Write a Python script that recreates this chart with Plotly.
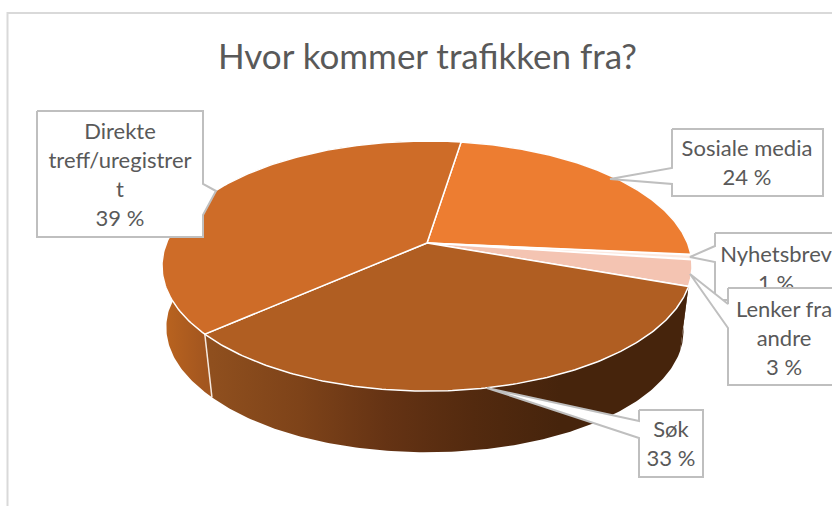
import numpy as np
import plotly.graph_objects as go

TITLE = "Hvor kommer trafikken fra?"
categories = ["Sosiale media", "Nyhetsbrev", "Lenker fra andre", "Søk", "Direkte treff/uregistrert"]
values = [24.0, 0.6, 3.4, 33.0, 39.0]
percent_labels = ["24 %", "1 %", "3 %", "33 %", "39 %"]
label_lines = [["Sosiale media"], ["Nyhetsbrev"], ["Lenker fra", "andre"], ["Søk"], ["Direkte", "treff/uregistrer", "t"]]
top_colors = ["#ED7D31", "#FBE9E0", "#F4C4B2", "#B05E22", "#CE6C28"]
wall_stops = [
    ["#46240C", "#46240C"], ["#46240C", "#46240C"], ["#46240C", "#46240C"],
    ["#8F4F1E", "#7E4319", "#653314", "#532A0F", "#46240C"],
    ["#B9631F", "#A3561F"],
]

START_DEG = 8.9
CX, CY = 427, 243
B, A, K = 260.5, 120.8, 0.184
DROP, SHRINK = 66, 0.968
INK, EDGE = "#595959", "#BFBFBF"
FONT = "Lato"


def rim(deg, lower=False):
    t = np.radians(deg)
    u, v = np.sin(t), -np.cos(t)
    d = 1 - K * v
    x, y = B * u / d, A * v / d
    if lower:
        # the far-left side of the lower rim bulges a little further out
        bulge = np.where(u < 0, 5.5 * np.clip(1 - v / 0.66, 0, 1), 0)
        return CX + SHRINK * x - bulge, CY + DROP + SHRINK * y
    return CX + x, CY + y


edges = START_DEG + np.concatenate([[0], np.cumsum(values)]) * 3.6
fig = go.Figure()


def poly(x, y, **kw):
    fig.add_trace(go.Scatter(x=x, y=y, mode="lines", fill="toself", hoverinfo="skip", showlegend=False, **kw))


# side walls
for i in [0, 1, 2, 4, 3]:
    a = np.linspace(edges[i], edges[i + 1], 160)
    tx, ty = rim(a)
    bx, by = rim(a, lower=True)
    xs = np.concatenate([tx, bx[::-1]])
    ys = np.concatenate([ty, by[::-1]])
    stops = wall_stops[i]
    scale = [[j / (len(stops) - 1), c] for j, c in enumerate(stops)]
    lo, hi = (212, 560) if i == 3 else (165, 205)
    poly(xs, ys, line=dict(width=0, color=stops[-1]),
         fillgradient=dict(type="horizontal", colorscale=scale, start=lo, stop=hi))

# seam between Direkte and Søk walls
sx0, sy0 = rim(edges[4])
sx1, sy1 = rim(edges[4], lower=True)
fig.add_trace(go.Scatter(x=[sx0, sx1], y=[sy0, sy1], mode="lines", hoverinfo="skip", showlegend=False,
                         line=dict(color="#F5E9E0", width=1.5)))

# top faces
for i in range(len(values)):
    a = np.linspace(edges[i], edges[i + 1], 160)
    tx, ty = rim(a)
    poly(np.concatenate([[CX], tx, [CX]]), np.concatenate([[CY], ty, [CY]]),
         fillcolor=top_colors[i], line=dict(color="#FFFFFF", width=1.5))


def callout(box, tail, lines, cx, first_y):
    l, t, r, b = box
    side, tip, p0, p1 = tail
    if side == "left":
        xs = [l, r, r, l, l, tip[0], l, l]
        ys = [t, t, b, b, p1, tip[1], p0, t]
    elif side == "right":
        xs = [l, r, r, tip[0], r, r, l, l]
        ys = [t, t, p0, tip[1], p1, b, b, t]
    poly(xs, ys, fillcolor="#FFFFFF", line=dict(color=EDGE, width=2))
    fig.add_trace(go.Scatter(
        x=[cx] * len(lines), y=[first_y + 29.3 * j for j in range(len(lines))], mode="text", text=lines,
        textposition="middle center", textfont=dict(family=FONT, size=22, color=INK),
        hoverinfo="skip", showlegend=False, cliponaxis=True))


callout((37, 111, 203, 237), ("right", (216, 191), 184, 215),
        label_lines[4] + [percent_labels[4]], 120, 133)
callout((672, 129, 823, 196), ("left", (610, 179), 168, 184),
        label_lines[0] + [percent_labels[0]], 747, 150)
callout((715, 233, 850, 300), ("left", (690, 257), 246, 262),
        label_lines[1] + [percent_labels[1]], 776, 256)
callout((728, 288, 850, 385), ("left", (690, 274), 304, 328),
        label_lines[2] + [percent_labels[2]], 784, 311)
callout((639, 410, 703, 477), ("left", (487, 388), 421, 438),
        label_lines[3] + [percent_labels[3]], 671, 431)

fig.add_shape(type="path", path="M 7.5 510 L 7.5 13 L 840 13", xref="x", yref="y",
              line=dict(color="#D9D9D9", width=2), layer="below")
fig.add_annotation(x=427, y=55, xref="x", yref="y", text=TITLE, showarrow=False,
                   font=dict(family=FONT, size=35, color=INK))

fig.update_xaxes(range=[0, 832], visible=False, fixedrange=True)
fig.update_yaxes(range=[506, 0], visible=False, fixedrange=True)
fig.update_layout(width=832, height=506, margin=dict(l=0, r=0, t=0, b=0),
                  paper_bgcolor="#FFFFFF", plot_bgcolor="#FFFFFF", showlegend=False)
fig.write_html("out.html", config=dict(displayModeBar=False),
               post_script="document.body.style.margin='0';document.body.style.overflow='hidden';")
